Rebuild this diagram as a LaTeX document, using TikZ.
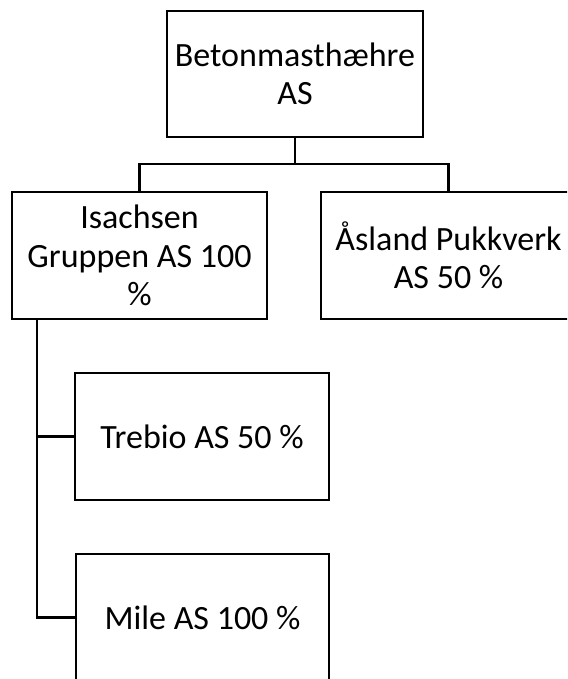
\documentclass[tikz,border=0pt]{standalone}
\usepackage{fontspec}
\setmainfont{Carlito}
\begin{document}
\begin{tikzpicture}[x=1pt,y=-1pt,
  orgbox/.style={draw=black,line width=2.6pt,minimum width=255pt,minimum height=127pt,
    inner sep=0pt,align=center,font=\fontsize{34}{38.5}\selectfont},
  conn/.style={draw=black,line width=2.6pt}]
\useasboundingbox (0,0) rectangle (567,679);
\clip (0,0) rectangle (567,679);
\node[orgbox,minimum width=256pt,minimum height=126pt] (top) at (295,74) {Betonmasthæhre\\AS};
\node[orgbox] (isa) at (139.5,255.5) {Isachsen\\Gruppen AS 100\\\%};
\node[orgbox] (asl) at (448.5,255.5) {Åsland Pukkverk\\AS 50 \%};
\node[orgbox,minimum width=254pt] (tre) at (202,436.5) {Trebio AS 50 \%};
\node[orgbox,minimum width=253pt] (mile) at (202.5,617.5) {Mile AS 100 \%};
\coordinate (bus) at (295,164);
\coordinate (lx) at (37,319);
\draw[conn] (top.south) -- (bus);
\draw[conn] (bus) -| (isa.north);
\draw[conn] (bus) -| (asl.north);
\draw[conn] (lx) |- (tre.west);
\draw[conn] (lx) |- (mile.west);
\end{tikzpicture}
\end{document}
